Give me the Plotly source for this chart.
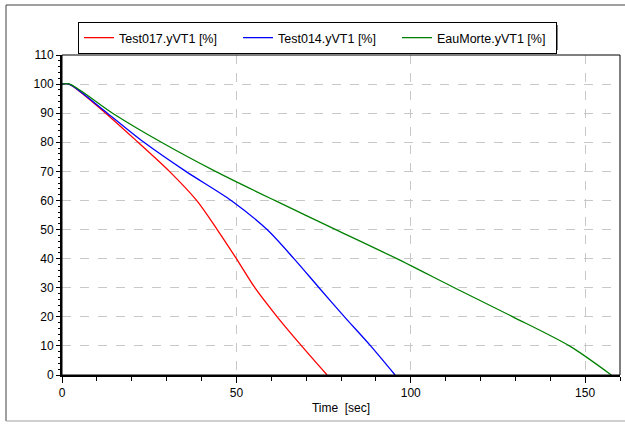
import plotly.graph_objects as go

# Data (time in sec, value in %)
levels = [100, 100, 90, 80, 70, 60, 50, 40, 30, 20, 10, 0]
t_test017 = [0, 2, 12.5, 21.8, 30.8, 38.6, 44.5, 50.0, 55.3, 61.7, 68.7, 76.0]
t_test014 = [0, 2, 13.0, 23.5, 35.5, 48.5, 58.8, 66.5, 73.7, 81.0, 88.5, 95.5]
t_eaumorte = [0, 2.2, 14.5, 28.5, 44.0, 61.0, 78.5, 96.0, 112.5, 129.3, 145.5, 157.5]

names = ["Test017.yVT1 [%]", "Test014.yVT1 [%]", "EauMorte.yVT1 [%]"]
colors = ["#ff0000", "#0000ff", "#008000"]
series_t = [t_test017, t_test014, t_eaumorte]

x_ticks = [0, 50, 100, 150]
y_ticks = list(range(0, 111, 10))

FONT = "Liberation Sans"

fig = go.Figure()
for nm, col, tt in zip(names, colors, series_t):
    fig.add_trace(go.Scatter(x=tt, y=levels, mode="lines", name=nm,
                             line=dict(color=col, width=1.3, shape="spline",
                                       smoothing=0.8)))

L, R, T, B = 62, 5, 55, 49
W, H = 625, 424
pw, ph = W - L - R, H - T - B

def px(x):
    return (x - L) / pw

def py(y):
    return (H - B - y) / ph

shapes = []
# plot border (thin)
shapes.append(dict(type="rect", xref="paper", yref="paper", x0=0, x1=1, y0=0, y1=1,
                   line=dict(color="#000000", width=1), layer="above"))
# outer frame
shapes.append(dict(type="line", xref="paper", yref="paper", x0=px(6), x1=px(6),
                   y0=py(421), y1=py(5), line=dict(color="#404040", width=1)))
shapes.append(dict(type="line", xref="paper", yref="paper", x0=px(6), x1=px(630),
                   y0=py(5), y1=py(5), line=dict(color="#404040", width=1)))
shapes.append(dict(type="line", xref="paper", yref="paper", x0=px(6), x1=px(630),
                   y0=py(421), y1=py(421), line=dict(color="#a0a0a0", width=1)))
# legend shadow
shapes.append(dict(type="rect", xref="paper", yref="paper", x0=px(81), x1=px(558),
                   y0=py(50), y1=py(25), fillcolor="#808080",
                   line=dict(width=0), layer="above"))

fig.update_layout(
    width=W, height=H,
    margin=dict(l=L, r=R, t=T, b=B, pad=0),
    paper_bgcolor="white", plot_bgcolor="white",
    font=dict(family=FONT, size=12, color="black"),
    shapes=shapes,
    showlegend=True,
    legend=dict(orientation="h", x=px(78), y=py(22), xanchor="left", yanchor="top",
                bgcolor="white", bordercolor="black", borderwidth=1,
                font=dict(family=FONT, size=12.5),
                entrywidth=114, entrywidthmode="pixels",
                tracegroupgap=0, itemwidth=30),
    xaxis=dict(range=[0, 160], tickvals=x_ticks, ticks="outside", ticklen=6,
               tickwidth=1, tickcolor="black", showgrid=True,
               gridcolor="#c8c8c8", griddash="dash", gridwidth=1,
               showline=True, linecolor="black", linewidth=2,
               zeroline=False,
               minor=dict(dtick=10, ticks="outside", ticklen=4, tickcolor="black",
                          showgrid=False),
               title=dict(text="Time  [sec]", standoff=4,
                          font=dict(family=FONT, size=12))),
    yaxis=dict(range=[0, 110], tickvals=y_ticks, ticks="outside", ticklen=4,
               tickwidth=1, tickcolor="black", showgrid=True,
               gridcolor="#c8c8c8", griddash="dash", gridwidth=1,
               showline=True, linecolor="black", linewidth=2,
               zeroline=False,
               minor=dict(dtick=2, ticks="outside", ticklen=2, tickcolor="black",
                          showgrid=False)),
)

fig.write_html("out.html")
